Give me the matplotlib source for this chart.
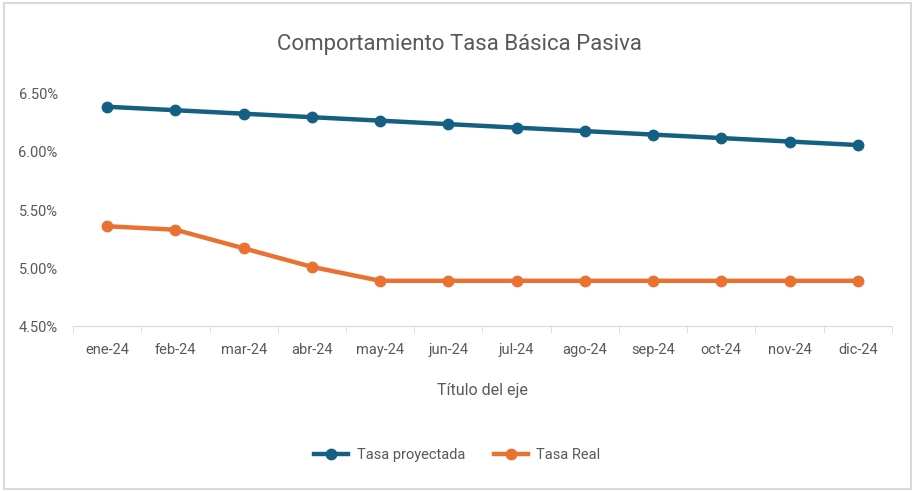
import numpy as np
import matplotlib.pyplot as plt
from matplotlib.ticker import FuncFormatter
from matplotlib.lines import Line2D
from matplotlib.patches import Rectangle

plt.rcParams['font.family'] = ['Liberation Sans Narrow', 'Roboto', 'DejaVu Sans']

months = ['ene-24', 'feb-24', 'mar-24', 'abr-24', 'may-24', 'jun-24',
          'jul-24', 'ago-24', 'sep-24', 'oct-24', 'nov-24', 'dic-24']
tasa_proyectada = [6.39, 6.36, 6.33, 6.30, 6.27, 6.24, 6.21, 6.18, 6.15, 6.12, 6.09, 6.06]
tasa_real = [5.36, 5.33, 5.17, 5.01, 4.89, 4.89, 4.89, 4.89, 4.89, 4.89, 4.89, 4.89]
yticks = [4.5, 5.0, 5.5, 6.0, 6.5]

blue = '#156082'
orange = '#E97132'
gray = '#595959'

fig = plt.figure(figsize=(9.15, 4.91), dpi=100)
ax = fig.add_axes([0.0798, 0.336, 0.895, 0.4726])

x = np.arange(len(months))
ax.plot(x, tasa_proyectada, color=blue, lw=3.2, marker='o', ms=7.5,
        solid_capstyle='round', label='Tasa proyectada')
ax.plot(x, tasa_real, color=orange, lw=3.2, marker='o', ms=7.5,
        solid_capstyle='round', label='Tasa Real')

ax.set_xlim(-0.5, len(months) - 0.5)
ax.set_ylim(4.5, 6.5)
ax.set_yticks(yticks)
ax.yaxis.set_major_formatter(FuncFormatter(lambda v, p: f'{v:.2f}%'))
ax.set_xticks(x)
ax.set_xticklabels(months)
ax.set_xticks(np.arange(-0.5, len(months)), minor=True)

for s in ['top', 'right', 'left']:
    ax.spines[s].set_visible(False)
ax.spines['bottom'].set_color('#d9d9d9')
ax.tick_params(axis='y', length=0, labelsize=10.5, labelcolor=gray, pad=11)
ax.tick_params(axis='x', which='major', length=0, labelsize=10.5, labelcolor=gray, pad=12)
ax.tick_params(axis='x', which='minor', length=5, color='#d9d9d9')

ax.set_xlabel('Título del eje', fontsize=11.5, color=gray, labelpad=19)
fig.text(0.502, 0.91, 'Comportamiento Tasa Básica Pasiva', ha='center', va='center',
         fontsize=16, color=gray)

handles = [Line2D([0], [0], color=blue, lw=3.2, marker='o', ms=7.5),
           Line2D([0], [0], color=orange, lw=3.2, marker='o', ms=7.5)]
fig.legend(handles, ['Tasa proyectada', 'Tasa Real'], loc='center',
           bbox_to_anchor=(0.5, 0.073), ncol=2, frameon=False, fontsize=10.5,
           labelcolor=gray, handlelength=2.3, columnspacing=2.0, handletextpad=0.6)

fig.patches.append(Rectangle((0.004, 0.004), 0.992, 0.99, transform=fig.transFigure,
                             fill=False, edgecolor='#d9d9d9', lw=1.5))

fig.savefig('out.png', dpi=100)
